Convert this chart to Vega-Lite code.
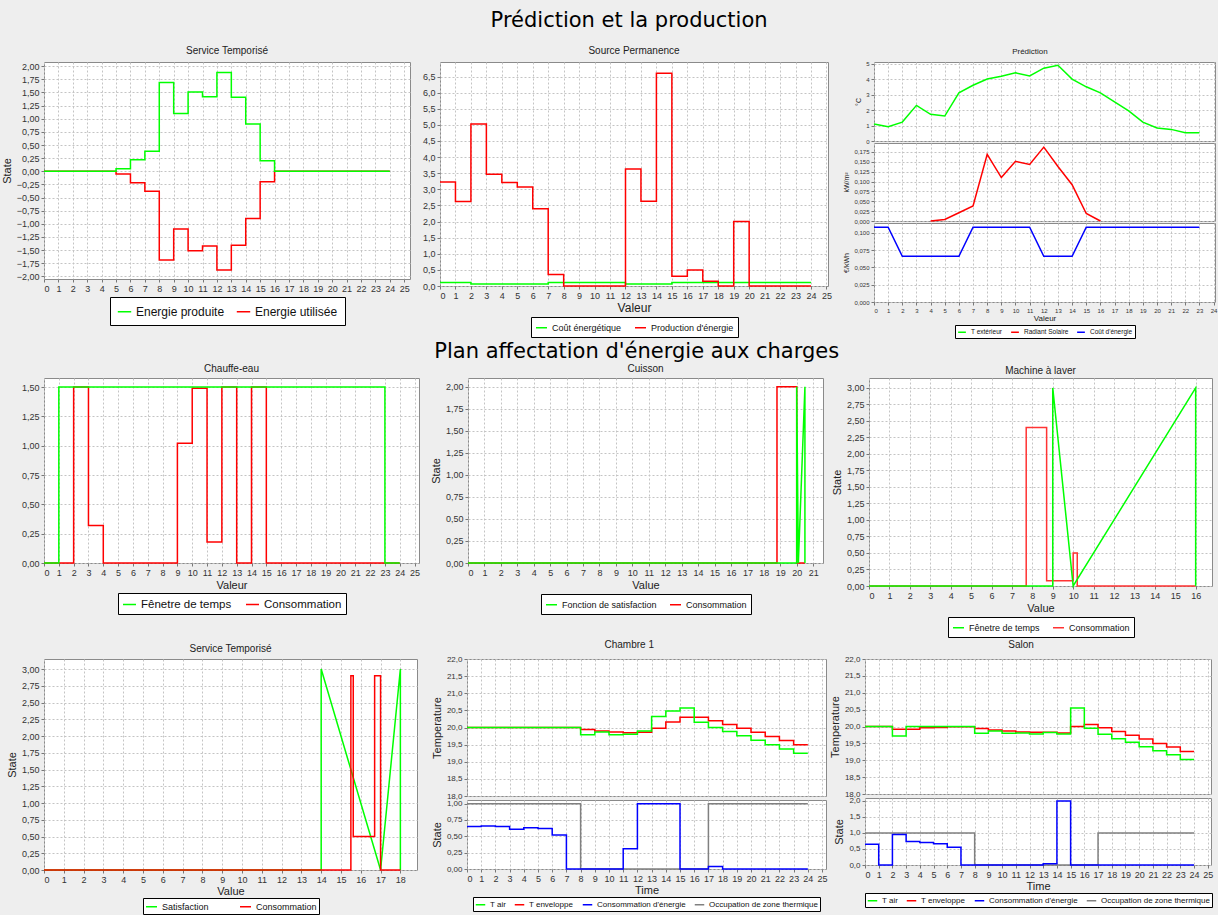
{
  "$schema": "https://vega.github.io/schema/vega-lite/v6.json",
  "background": "#eeeeee",
  "padding": {"left": 0, "top": 9, "right": 0, "bottom": 0},
  "title": {"text": "Prédiction et la production", "font": "DejaVu Sans", "fontSize": 21, "fontWeight": "normal", "color": "#000000", "anchor": "middle", "offset": 15, "dx": 20},
  "spacing": 1,
  "resolve": {"scale": {"color": "independent"}, "legend": {"color": "independent"}},
  "datasets": {
    "p1": [
      {"x": 0, "y": 0, "s": "Energie produite"}, {"x": 5, "y": 0.05, "s": "Energie produite"}, {"x": 6, "y": 0.22, "s": "Energie produite"}, {"x": 7, "y": 0.38, "s": "Energie produite"}, {"x": 8, "y": 1.69, "s": "Energie produite"}, {"x": 9, "y": 1.1, "s": "Energie produite"}, {"x": 10, "y": 1.51, "s": "Energie produite"}, {"x": 11, "y": 1.42, "s": "Energie produite"}, {"x": 12, "y": 1.88, "s": "Energie produite"}, {"x": 13, "y": 1.41, "s": "Energie produite"}, {"x": 14, "y": 0.9, "s": "Energie produite"}, {"x": 15, "y": 0.2, "s": "Energie produite"}, {"x": 16, "y": 0, "s": "Energie produite"}, {"x": 24, "y": 0, "s": "Energie produite"},
      {"x": 0, "y": 0, "s": "Energie utilisée"}, {"x": 5, "y": -0.05, "s": "Energie utilisée"}, {"x": 6, "y": -0.22, "s": "Energie utilisée"}, {"x": 7, "y": -0.38, "s": "Energie utilisée"}, {"x": 8, "y": -1.69, "s": "Energie utilisée"}, {"x": 9, "y": -1.1, "s": "Energie utilisée"}, {"x": 10, "y": -1.51, "s": "Energie utilisée"}, {"x": 11, "y": -1.42, "s": "Energie utilisée"}, {"x": 12, "y": -1.88, "s": "Energie utilisée"}, {"x": 13, "y": -1.41, "s": "Energie utilisée"}, {"x": 14, "y": -0.9, "s": "Energie utilisée"}, {"x": 15, "y": -0.2, "s": "Energie utilisée"}, {"x": 16, "y": 0, "s": "Energie utilisée"}, {"x": 24, "y": 0, "s": "Energie utilisée"}
    ],
    "p2": [
      {"x": 0, "y": 0.106, "s": "Coût énergétique"}, {"x": 2, "y": 0.064, "s": "Coût énergétique"}, {"x": 7, "y": 0.106, "s": "Coût énergétique"}, {"x": 12, "y": 0.064, "s": "Coût énergétique"}, {"x": 15, "y": 0.106, "s": "Coût énergétique"}, {"x": 24, "y": 0.106, "s": "Coût énergétique"},
      {"x": 0, "y": 3.23, "s": "Production d'énergie"}, {"x": 1, "y": 2.62, "s": "Production d'énergie"}, {"x": 2, "y": 5.03, "s": "Production d'énergie"}, {"x": 3, "y": 3.47, "s": "Production d'énergie"}, {"x": 4, "y": 3.21, "s": "Production d'énergie"}, {"x": 5, "y": 3.07, "s": "Production d'énergie"}, {"x": 6, "y": 2.4, "s": "Production d'énergie"}, {"x": 7, "y": 0.36, "s": "Production d'énergie"}, {"x": 8, "y": 0, "s": "Production d'énergie"}, {"x": 12, "y": 3.63, "s": "Production d'énergie"}, {"x": 13, "y": 2.63, "s": "Production d'énergie"}, {"x": 14, "y": 6.6, "s": "Production d'énergie"}, {"x": 15, "y": 0.3, "s": "Production d'énergie"}, {"x": 16, "y": 0.5, "s": "Production d'énergie"}, {"x": 17, "y": 0.15, "s": "Production d'énergie"}, {"x": 18, "y": 0, "s": "Production d'énergie"}, {"x": 19, "y": 2.0, "s": "Production d'énergie"}, {"x": 20, "y": 0, "s": "Production d'énergie"}, {"x": 24, "y": 0, "s": "Production d'énergie"}
    ],
    "p3": [
      {"x": 0, "y": 1.1, "s": "T extérieur"}, {"x": 1, "y": 0.92, "s": "T extérieur"}, {"x": 2, "y": 1.22, "s": "T extérieur"}, {"x": 3, "y": 2.3, "s": "T extérieur"}, {"x": 4, "y": 1.72, "s": "T extérieur"}, {"x": 5, "y": 1.61, "s": "T extérieur"}, {"x": 6, "y": 3.11, "s": "T extérieur"}, {"x": 7, "y": 3.6, "s": "T extérieur"}, {"x": 8, "y": 4.0, "s": "T extérieur"}, {"x": 9, "y": 4.18, "s": "T extérieur"}, {"x": 10, "y": 4.4, "s": "T extérieur"}, {"x": 11, "y": 4.2, "s": "T extérieur"}, {"x": 12, "y": 4.7, "s": "T extérieur"}, {"x": 13, "y": 4.89, "s": "T extérieur"}, {"x": 14, "y": 4.0, "s": "T extérieur"}, {"x": 15, "y": 3.5, "s": "T extérieur"}, {"x": 16, "y": 3.11, "s": "T extérieur"}, {"x": 17, "y": 2.53, "s": "T extérieur"}, {"x": 18, "y": 1.95, "s": "T extérieur"}, {"x": 19, "y": 1.22, "s": "T extérieur"}, {"x": 20, "y": 0.84, "s": "T extérieur"}, {"x": 21, "y": 0.75, "s": "T extérieur"}, {"x": 22, "y": 0.54, "s": "T extérieur"}, {"x": 23, "y": 0.54, "s": "T extérieur"},
      {"x": 4, "y": 0, "s": "Radiant Solaire"}, {"x": 5, "y": 0.004, "s": "Radiant Solaire"}, {"x": 6, "y": 0.021, "s": "Radiant Solaire"}, {"x": 7, "y": 0.038, "s": "Radiant Solaire"}, {"x": 8, "y": 0.169, "s": "Radiant Solaire"}, {"x": 9, "y": 0.11, "s": "Radiant Solaire"}, {"x": 10, "y": 0.151, "s": "Radiant Solaire"}, {"x": 11, "y": 0.143, "s": "Radiant Solaire"}, {"x": 12, "y": 0.187, "s": "Radiant Solaire"}, {"x": 13, "y": 0.138, "s": "Radiant Solaire"}, {"x": 14, "y": 0.092, "s": "Radiant Solaire"}, {"x": 15, "y": 0.019, "s": "Radiant Solaire"}, {"x": 16, "y": 0, "s": "Radiant Solaire"},
      {"x": 0, "y": 0.108, "s": "Coût d'énergie"}, {"x": 1, "y": 0.108, "s": "Coût d'énergie"}, {"x": 2, "y": 0.066, "s": "Coût d'énergie"}, {"x": 6, "y": 0.066, "s": "Coût d'énergie"}, {"x": 7, "y": 0.108, "s": "Coût d'énergie"}, {"x": 11, "y": 0.108, "s": "Coût d'énergie"}, {"x": 12, "y": 0.066, "s": "Coût d'énergie"}, {"x": 14, "y": 0.066, "s": "Coût d'énergie"}, {"x": 15, "y": 0.108, "s": "Coût d'énergie"}, {"x": 23, "y": 0.108, "s": "Coût d'énergie"}
    ],
    "p4": [
      {"x": 0, "y": 0, "s": "Fênetre de temps"}, {"x": 1, "y": 1.5, "s": "Fênetre de temps"}, {"x": 23, "y": 0, "s": "Fênetre de temps"}, {"x": 24, "y": 0, "s": "Fênetre de temps"},
      {"x": 0, "y": 0, "s": "Consommation"}, {"x": 2, "y": 1.5, "s": "Consommation"}, {"x": 3, "y": 0.32, "s": "Consommation"}, {"x": 4, "y": 0, "s": "Consommation"}, {"x": 9, "y": 1.02, "s": "Consommation"}, {"x": 10, "y": 1.49, "s": "Consommation"}, {"x": 11, "y": 0.18, "s": "Consommation"}, {"x": 12, "y": 1.5, "s": "Consommation"}, {"x": 13, "y": 0, "s": "Consommation"}, {"x": 14, "y": 1.5, "s": "Consommation"}, {"x": 15, "y": 0, "s": "Consommation"}, {"x": 24, "y": 0, "s": "Consommation"}
    ],
    "p5": [
      {"x": 0, "y": 0, "s": "Fonction de satisfaction"}, {"x": 20, "y": 0, "s": "Fonction de satisfaction"}, {"x": 20, "y": 2, "s": "Fonction de satisfaction"}, {"x": 20.1, "y": 0, "s": "Fonction de satisfaction"}, {"x": 20.5, "y": 2, "s": "Fonction de satisfaction"}, {"x": 20.5, "y": 0, "s": "Fonction de satisfaction"},
      {"x": 0, "y": 0, "s": "Consommation"}, {"x": 18.8, "y": 2, "s": "Consommation"}, {"x": 20, "y": 0, "s": "Consommation"}, {"x": 20.5, "y": 0, "s": "Consommation"}
    ],
    "p6": [
      {"x": 0, "y": 0, "s": "Fênetre de temps"}, {"x": 9, "y": 0, "s": "Fênetre de temps"}, {"x": 9, "y": 3, "s": "Fênetre de temps"}, {"x": 10, "y": 0, "s": "Fênetre de temps"}, {"x": 16, "y": 3, "s": "Fênetre de temps"}, {"x": 16, "y": 0, "s": "Fênetre de temps"},
      {"x": 0, "y": 0, "s": "Consommation"}, {"x": 7.7, "y": 2.4, "s": "Consommation"}, {"x": 8.7, "y": 0.08, "s": "Consommation"}, {"x": 10.0, "y": 0.5, "s": "Consommation"}, {"x": 10.2, "y": 0, "s": "Consommation"}, {"x": 16, "y": 0, "s": "Consommation"}
    ],
    "p7": [
      {"x": 0, "y": 0, "s": "Satisfaction"}, {"x": 14, "y": 0, "s": "Satisfaction"}, {"x": 14, "y": 3, "s": "Satisfaction"}, {"x": 17, "y": 0, "s": "Satisfaction"}, {"x": 18, "y": 3, "s": "Satisfaction"}, {"x": 18, "y": 0, "s": "Satisfaction"},
      {"x": 0, "y": 0, "s": "Consommation"}, {"x": 15.5, "y": 2.9, "s": "Consommation"}, {"x": 15.62, "y": 0.5, "s": "Consommation"}, {"x": 16.7, "y": 2.9, "s": "Consommation"}, {"x": 17.0, "y": 0, "s": "Consommation"}, {"x": 18, "y": 0, "s": "Consommation"}
    ],
    "p8t": [
      {"x": 0, "y": 20.0, "s": "T air"}, {"x": 8, "y": 19.79, "s": "T air"}, {"x": 9, "y": 19.87, "s": "T air"}, {"x": 10, "y": 19.79, "s": "T air"}, {"x": 11, "y": 19.8, "s": "T air"}, {"x": 12, "y": 19.9, "s": "T air"}, {"x": 13, "y": 20.32, "s": "T air"}, {"x": 14, "y": 20.48, "s": "T air"}, {"x": 15, "y": 20.57, "s": "T air"}, {"x": 16, "y": 20.15, "s": "T air"}, {"x": 17, "y": 20.0, "s": "T air"}, {"x": 18, "y": 19.88, "s": "T air"}, {"x": 19, "y": 19.76, "s": "T air"}, {"x": 20, "y": 19.63, "s": "T air"}, {"x": 21, "y": 19.5, "s": "T air"}, {"x": 22, "y": 19.37, "s": "T air"}, {"x": 23, "y": 19.25, "s": "T air"}, {"x": 24, "y": 19.25, "s": "T air"},
      {"x": 0, "y": 20.0, "s": "T enveloppe"}, {"x": 8, "y": 19.94, "s": "T enveloppe"}, {"x": 9, "y": 19.9, "s": "T enveloppe"}, {"x": 10, "y": 19.87, "s": "T enveloppe"}, {"x": 11, "y": 19.85, "s": "T enveloppe"}, {"x": 12, "y": 19.86, "s": "T enveloppe"}, {"x": 13, "y": 19.98, "s": "T enveloppe"}, {"x": 14, "y": 20.16, "s": "T enveloppe"}, {"x": 15, "y": 20.3, "s": "T enveloppe"}, {"x": 16, "y": 20.3, "s": "T enveloppe"}, {"x": 17, "y": 20.2, "s": "T enveloppe"}, {"x": 18, "y": 20.09, "s": "T enveloppe"}, {"x": 19, "y": 19.98, "s": "T enveloppe"}, {"x": 20, "y": 19.86, "s": "T enveloppe"}, {"x": 21, "y": 19.74, "s": "T enveloppe"}, {"x": 22, "y": 19.62, "s": "T enveloppe"}, {"x": 23, "y": 19.5, "s": "T enveloppe"}, {"x": 24, "y": 19.5, "s": "T enveloppe"}
    ],
    "p8b": [
      {"x": 0, "y": 1, "s": "Occupation de zone thermique"}, {"x": 8, "y": 0, "s": "Occupation de zone thermique"}, {"x": 17, "y": 1, "s": "Occupation de zone thermique"}, {"x": 24, "y": 1, "s": "Occupation de zone thermique"},
      {"x": 0, "y": 0.65, "s": "Consommation d'énergie"}, {"x": 1, "y": 0.66, "s": "Consommation d'énergie"}, {"x": 2, "y": 0.65, "s": "Consommation d'énergie"}, {"x": 3, "y": 0.61, "s": "Consommation d'énergie"}, {"x": 4, "y": 0.63, "s": "Consommation d'énergie"}, {"x": 5, "y": 0.62, "s": "Consommation d'énergie"}, {"x": 6, "y": 0.52, "s": "Consommation d'énergie"}, {"x": 7, "y": 0, "s": "Consommation d'énergie"}, {"x": 11, "y": 0.31, "s": "Consommation d'énergie"}, {"x": 12, "y": 1.0, "s": "Consommation d'énergie"}, {"x": 15, "y": 0, "s": "Consommation d'énergie"}, {"x": 17, "y": 0.04, "s": "Consommation d'énergie"}, {"x": 18, "y": 0, "s": "Consommation d'énergie"}, {"x": 24, "y": 0, "s": "Consommation d'énergie"}
    ],
    "p9t": [
      {"x": 0, "y": 20.0, "s": "T air"}, {"x": 2, "y": 19.72, "s": "T air"}, {"x": 3, "y": 20.0, "s": "T air"}, {"x": 8, "y": 19.8, "s": "T air"}, {"x": 9, "y": 19.87, "s": "T air"}, {"x": 10, "y": 19.8, "s": "T air"}, {"x": 11, "y": 19.81, "s": "T air"}, {"x": 12, "y": 19.78, "s": "T air"}, {"x": 13, "y": 19.82, "s": "T air"}, {"x": 14, "y": 19.78, "s": "T air"}, {"x": 15, "y": 20.55, "s": "T air"}, {"x": 16, "y": 19.95, "s": "T air"}, {"x": 17, "y": 19.77, "s": "T air"}, {"x": 18, "y": 19.64, "s": "T air"}, {"x": 19, "y": 19.53, "s": "T air"}, {"x": 20, "y": 19.4, "s": "T air"}, {"x": 21, "y": 19.28, "s": "T air"}, {"x": 22, "y": 19.16, "s": "T air"}, {"x": 23, "y": 19.02, "s": "T air"}, {"x": 24, "y": 19.02, "s": "T air"},
      {"x": 0, "y": 20.0, "s": "T enveloppe"}, {"x": 2, "y": 19.92, "s": "T enveloppe"}, {"x": 4, "y": 19.96, "s": "T enveloppe"}, {"x": 5, "y": 19.97, "s": "T enveloppe"}, {"x": 6, "y": 19.99, "s": "T enveloppe"}, {"x": 8, "y": 19.94, "s": "T enveloppe"}, {"x": 9, "y": 19.9, "s": "T enveloppe"}, {"x": 10, "y": 19.87, "s": "T enveloppe"}, {"x": 11, "y": 19.84, "s": "T enveloppe"}, {"x": 12, "y": 19.83, "s": "T enveloppe"}, {"x": 14, "y": 19.81, "s": "T enveloppe"}, {"x": 15, "y": 20.0, "s": "T enveloppe"}, {"x": 16, "y": 20.06, "s": "T enveloppe"}, {"x": 17, "y": 19.96, "s": "T enveloppe"}, {"x": 18, "y": 19.85, "s": "T enveloppe"}, {"x": 19, "y": 19.74, "s": "T enveloppe"}, {"x": 20, "y": 19.63, "s": "T enveloppe"}, {"x": 21, "y": 19.5, "s": "T enveloppe"}, {"x": 22, "y": 19.39, "s": "T enveloppe"}, {"x": 23, "y": 19.26, "s": "T enveloppe"}, {"x": 24, "y": 19.26, "s": "T enveloppe"}
    ],
    "p9b": [
      {"x": 0, "y": 1, "s": "Occupation de zone thermique"}, {"x": 8, "y": 0, "s": "Occupation de zone thermique"}, {"x": 17, "y": 1, "s": "Occupation de zone thermique"}, {"x": 24, "y": 1, "s": "Occupation de zone thermique"},
      {"x": 0, "y": 0.65, "s": "Consommation d'énergie"}, {"x": 1, "y": 0, "s": "Consommation d'énergie"}, {"x": 2, "y": 0.95, "s": "Consommation d'énergie"}, {"x": 3, "y": 0.73, "s": "Consommation d'énergie"}, {"x": 4, "y": 0.7, "s": "Consommation d'énergie"}, {"x": 5, "y": 0.66, "s": "Consommation d'énergie"}, {"x": 6, "y": 0.55, "s": "Consommation d'énergie"}, {"x": 7, "y": 0, "s": "Consommation d'énergie"}, {"x": 13, "y": 0.04, "s": "Consommation d'énergie"}, {"x": 14, "y": 2.0, "s": "Consommation d'énergie"}, {"x": 15, "y": 0, "s": "Consommation d'énergie"}, {"x": 24, "y": 0, "s": "Consommation d'énergie"}
    ]
  },
  "vconcat": [
    {
      "spacing": 10,
      "resolve": {"scale": {"color": "independent"}, "legend": {"color": "independent"}},
      "hconcat": [
        {
          "title": {"text": "Service Temporisé", "offset": 6},
          "width": 366, "height": 217,
          "data": {"name": "p1"},
          "encoding": {
            "x": {"field": "x", "type": "quantitative", "scale": {"domain": [0, 25.4], "nice": false}, "axis": {"values": [0,1,2,3,4,5,6,7,8,9,10,11,12,13,14,15,16,17,18,19,20,21,22,23,24,25], "format": "d", "title": null}},
            "y": {"field": "y", "type": "quantitative", "scale": {"domain": [-2.05, 2.08], "nice": false, "zero": false}, "axis": {"values": [-2,-1.75,-1.5,-1.25,-1,-0.75,-0.5,-0.25,0,0.25,0.5,0.75,1,1.25,1.5,1.75,2], "labelExpr": "replace(format(datum.value,'.2f'),'.',',')", "title": "State"}},
            "color": {"field": "s", "type": "nominal", "scale": {"domain": ["Energie produite", "Energie utilisée"], "range": ["#00ff00", "#ff0000"]}, "legend": {"title": null, "labelFontSize": 12, "symbolSize": 180, "symbolStrokeWidth": 2.5, "padding": 7, "columnPadding": 8, "offset": 4}}
          },
          "layer": [
            {"transform": [{"filter": "datum.s === 'Energie utilisée'"}], "mark": {"type": "line", "interpolate": "step-after"}},
            {"transform": [{"filter": "datum.s === 'Energie produite'"}], "mark": {"type": "line", "interpolate": "step-after"}}
          ]
        },
        {
          "title": {"text": "Source Permanence", "offset": 6},
          "width": 388, "height": 224,
          "data": {"name": "p2"},
          "encoding": {
            "x": {"field": "x", "type": "quantitative", "scale": {"domain": [0, 25.1], "nice": false}, "axis": {"values": [0,1,2,3,4,5,6,7,8,9,10,11,12,13,14,15,16,17,18,19,20,21,22,23,24,25], "format": "d", "title": "Valeur", "titleFontSize": 12, "titlePadding": 2}},
            "y": {"field": "y", "type": "quantitative", "scale": {"domain": [0, 6.95], "nice": false}, "axis": {"values": [0,0.5,1,1.5,2,2.5,3,3.5,4,4.5,5,5.5,6,6.5], "labelExpr": "replace(format(datum.value,'.1f'),'.',',')", "title": null}},
            "color": {"field": "s", "type": "nominal", "scale": {"domain": ["Coût énergétique", "Production d'énergie"], "range": ["#00ff00", "#ff0000"]}, "legend": {"title": null, "labelFontSize": 9, "offset": 4}}
          },
          "layer": [
            {"transform": [{"filter": "datum.s === 'Coût énergétique'"}], "mark": {"type": "line", "interpolate": "step-after"}},
            {"transform": [{"filter": "datum.s !== 'Coût énergétique'"}], "mark": {"type": "line", "interpolate": "step-after"}}
          ]
        },
        {
          "title": {"text": "Prédiction", "offset": 4, "fontSize": 8},
          "spacing": 2,
          "bounds": "flush",
          "resolve": {"scale": {"color": "independent"}, "legend": {"color": "independent"}},
          "vconcat": [
            {
              "width": 341, "height": 79,
              "data": {"name": "p3"},
              "transform": [{"filter": "datum.s === 'T extérieur'"}],
              "mark": {"type": "line"},
              "encoding": {
                "x": {"field": "x", "type": "quantitative", "scale": {"domain": [0, 24.1], "nice": false}, "axis": {"values": [0,1,2,3,4,5,6,7,8,9,10,11,12,13,14,15,16,17,18,19,20,21,22,23,24], "labels": false, "ticks": false, "title": null, "maxExtent": 0, "minExtent": 0}},
                "y": {"field": "y", "type": "quantitative", "scale": {"domain": [0, 5.1], "nice": false}, "axis": {"values": [0,1,2,3,4,5], "format": "d", "title": "°C", "titleFontSize": 7, "labelFontSize": 6}},
                "color": {"value": "#00ff00"}
              }
            },
            {
              "width": 341, "height": 78,
              "data": {"name": "p3"},
              "transform": [{"filter": "datum.s === 'Radiant Solaire'"}],
              "mark": {"type": "line"},
              "encoding": {
                "x": {"field": "x", "type": "quantitative", "scale": {"domain": [0, 24.1], "nice": false}, "axis": {"values": [0,1,2,3,4,5,6,7,8,9,10,11,12,13,14,15,16,17,18,19,20,21,22,23,24], "labels": false, "ticks": false, "title": null, "maxExtent": 0, "minExtent": 0}},
                "y": {"field": "y", "type": "quantitative", "scale": {"domain": [0, 0.1975], "nice": false}, "axis": {"values": [0,0.025,0.05,0.075,0.1,0.125,0.15,0.175], "labelExpr": "replace(format(datum.value,'.3f'),'.',',')", "title": "kW/m²", "titleFontSize": 7, "labelFontSize": 6}},
                "color": {"value": "#ff0000"}
              }
            },
            {
              "width": 341, "height": 79,
              "data": {"name": "p3"},
              "transform": [{"filter": "datum.s !== 'T extérieur' && datum.s !== 'Radiant Solaire'"}],
              "mark": {"type": "line"},
              "encoding": {
                "x": {"field": "x", "type": "quantitative", "scale": {"domain": [0, 24.1], "nice": false}, "axis": {"values": [0,1,2,3,4,5,6,7,8,9,10,11,12,13,14,15,16,17,18,19,20,21,22,23,24], "format": "d", "title": "Valeur", "titleFontSize": 8, "labelFontSize": 6, "titlePadding": 1}},
                "y": {"field": "y", "type": "quantitative", "scale": {"domain": [0, 0.114], "nice": false}, "axis": {"values": [0,0.025,0.05,0.075,0.1], "labelExpr": "replace(format(datum.value,'.3f'),'.',',')", "title": "€/kWh", "titleFontSize": 7, "labelFontSize": 6}},
                "color": {"field": "s", "type": "nominal", "scale": {"domain": ["T extérieur", "Radiant Solaire", "Coût d'énergie"], "range": ["#00ff00", "#ff0000", "#0000ff"]}, "legend": {"title": null, "labelFontSize": 6.5, "symbolSize": 60, "padding": 2, "columnPadding": 5, "offset": 3}}
              }
            }
          ]
        }
      ]
    },
    {
      "title": {"text": "Plan affectation d'énergie aux charges", "font": "DejaVu Sans", "fontSize": 21, "fontWeight": "normal", "color": "#000000", "anchor": "middle", "offset": 2, "dx": 20},
      "spacing": 8,
      "resolve": {"scale": {"color": "independent"}, "legend": {"color": "independent"}},
      "hconcat": [
        {
          "title": {"text": "Chauffe-eau", "offset": 4},
          "width": 375, "height": 185,
          "data": {"name": "p4"},
          "encoding": {
            "x": {"field": "x", "type": "quantitative", "scale": {"domain": [0, 25.3], "nice": false}, "axis": {"values": [0,1,2,3,4,5,6,7,8,9,10,11,12,13,14,15,16,17,18,19,20,21,22,23,24,25], "format": "d", "title": "Valeur", "titlePadding": 2}},
            "y": {"field": "y", "type": "quantitative", "scale": {"domain": [0, 1.577], "nice": false}, "axis": {"values": [0,0.25,0.5,0.75,1,1.25,1.5], "labelExpr": "replace(format(datum.value,'.2f'),'.',',')", "title": null}},
            "color": {"field": "s", "type": "nominal", "scale": {"domain": ["Fênetre de temps", "Consommation"], "range": ["#00ff00", "#ff0000"]}, "legend": {"title": null, "labelFontSize": 11.5, "symbolSize": 170, "symbolStrokeWidth": 2.5, "padding": 4, "columnPadding": 10, "offset": 3}}
          },
          "layer": [
            {"transform": [{"filter": "datum.s === 'Consommation'"}], "mark": {"type": "line", "interpolate": "step-after"}},
            {"transform": [{"filter": "datum.s !== 'Consommation'"}], "mark": {"type": "line", "interpolate": "step-after"}}
          ]
        },
        {
          "spacing": 6,
          "resolve": {"scale": {"color": "independent"}, "legend": {"color": "independent"}},
          "hconcat": [
            {
              "title": {"text": "Cuisson", "offset": 4},
              "width": 355, "height": 185,
              "data": {"name": "p5"},
              "encoding": {
                "x": {"field": "x", "type": "quantitative", "scale": {"domain": [0, 21.6], "nice": false}, "axis": {"values": [0,1,2,3,4,5,6,7,8,9,10,11,12,13,14,15,16,17,18,19,20,21], "format": "d", "title": "Value", "titlePadding": 2}},
                "y": {"field": "y", "type": "quantitative", "scale": {"domain": [0, 2.1], "nice": false}, "axis": {"values": [0,0.25,0.5,0.75,1,1.25,1.5,1.75,2], "labelExpr": "replace(format(datum.value,'.2f'),'.',',')", "title": "State"}},
                "color": {"field": "s", "type": "nominal", "scale": {"domain": ["Fonction de satisfaction", "Consommation"], "range": ["#00ff00", "#ff0000"]}, "legend": {"title": null, "labelFontSize": 9, "offset": 4}}
              },
              "layer": [
                {"transform": [{"filter": "datum.s === 'Consommation'"}], "mark": {"type": "line", "interpolate": "step-after"}},
                {"transform": [{"filter": "datum.s !== 'Consommation'"}], "mark": {"type": "line"}, "encoding": {"order": {"value": null}}}
              ]
            },
            {
              "title": {"text": "Machine à laver", "offset": 2},
              "width": 343, "height": 208,
              "data": {"name": "p6"},
              "encoding": {
                "x": {"field": "x", "type": "quantitative", "scale": {"domain": [0, 16.8], "nice": false}, "axis": {"values": [0,1,2,3,4,5,6,7,8,9,10,11,12,13,14,15,16], "format": "d", "title": "Value", "titlePadding": 2}},
                "y": {"field": "y", "type": "quantitative", "scale": {"domain": [0, 3.15], "nice": false}, "axis": {"values": [0,0.25,0.5,0.75,1,1.25,1.5,1.75,2,2.25,2.5,2.75,3], "labelExpr": "replace(format(datum.value,'.2f'),'.',',')", "title": "State"}},
                "color": {"field": "s", "type": "nominal", "scale": {"domain": ["Fênetre de temps", "Consommation"], "range": ["#00ff00", "#ff3333"]}, "legend": {"title": null, "labelFontSize": 9, "offset": 4}}
              },
              "layer": [
                {"transform": [{"filter": "datum.s === 'Consommation'"}], "mark": {"type": "line", "interpolate": "step-after"}},
                {"transform": [{"filter": "datum.s !== 'Consommation'"}], "mark": {"type": "line"}, "encoding": {"order": {"value": null}}}
              ]
            }
          ]
        }
      ]
    },
    {
      "spacing": 12,
      "resolve": {"scale": {"color": "independent"}, "legend": {"color": "independent"}},
      "hconcat": [
        {
          "title": {"text": "Service Temporisé", "offset": 5},
          "width": 373, "height": 211,
          "data": {"name": "p7"},
          "encoding": {
            "x": {"field": "x", "type": "quantitative", "scale": {"domain": [0, 18.84], "nice": false}, "axis": {"values": [0,1,2,3,4,5,6,7,8,9,10,11,12,13,14,15,16,17,18], "format": "d", "title": "Value", "titlePadding": 1}},
            "y": {"field": "y", "type": "quantitative", "scale": {"domain": [0, 3.15], "nice": false}, "axis": {"values": [0,0.25,0.5,0.75,1,1.25,1.5,1.75,2,2.25,2.5,2.75,3], "labelExpr": "replace(format(datum.value,'.2f'),'.',',')", "title": "State"}},
            "color": {"field": "s", "type": "nominal", "scale": {"domain": ["Satisfaction", "Consommation"], "range": ["#00ff00", "#ff0000"]}, "legend": {"title": null, "labelFontSize": 9, "columnPadding": 28, "padding": 2, "offset": 2}}
          },
          "layer": [
            {"transform": [{"filter": "datum.s !== 'Consommation'"}], "mark": {"type": "line"}, "encoding": {"order": {"value": null}}},
            {"transform": [{"filter": "datum.s === 'Consommation'"}], "mark": {"type": "line", "interpolate": "step-after"}}
          ]
        },
        {
          "spacing": 0,
          "resolve": {"scale": {"color": "independent"}, "legend": {"color": "independent"}},
          "hconcat": [
            {
              "title": {"text": "Chambre 1", "offset": 5},
              "spacing": 4,
              "bounds": "flush",
              "resolve": {"scale": {"color": "independent"}, "legend": {"color": "independent"}},
              "vconcat": [
                {
                  "width": 359, "height": 137,
                  "data": {"name": "p8t"},
                  "encoding": {
                    "x": {"field": "x", "type": "quantitative", "scale": {"domain": [0, 25.28], "nice": false}, "axis": {"values": [0,1,2,3,4,5,6,7,8,9,10,11,12,13,14,15,16,17,18,19,20,21,22,23,24,25], "labels": false, "ticks": false, "title": null, "maxExtent": 0, "minExtent": 0}},
                    "y": {"field": "y", "type": "quantitative", "scale": {"domain": [18, 22], "nice": false, "zero": false}, "axis": {"values": [18,18.5,19,19.5,20,20.5,21,21.5,22], "labelExpr": "replace(format(datum.value,'.1f'),'.',',')", "title": "Temperature", "labelFontSize": 8}}
                  },
                  "layer": [
                    {"transform": [{"filter": "datum.s === 'T enveloppe'"}], "mark": {"type": "line", "interpolate": "step-after", "color": "#ff0000"}},
                    {"transform": [{"filter": "datum.s === 'T air'"}], "mark": {"type": "line", "interpolate": "step-after", "color": "#00ff00"}}
                  ]
                },
                {
                  "width": 359, "height": 69,
                  "data": {"name": "p8b"},
                  "mark": {"type": "line", "interpolate": "step-after"},
                  "encoding": {
                    "x": {"field": "x", "type": "quantitative", "scale": {"domain": [0, 25.28], "nice": false}, "axis": {"values": [0,1,2,3,4,5,6,7,8,9,10,11,12,13,14,15,16,17,18,19,20,21,22,23,24,25], "format": "d", "title": "Time", "titlePadding": 1}},
                    "y": {"field": "y", "type": "quantitative", "scale": {"domain": [0, 1.056], "nice": false}, "axis": {"values": [0,0.25,0.5,0.75,1], "labelExpr": "replace(format(datum.value,'.2f'),'.',',')", "title": "State", "labelFontSize": 8}},
                    "color": {"field": "s", "type": "nominal", "scale": {"domain": ["T air", "T enveloppe", "Consommation d'énergie", "Occupation de zone thermique"], "range": ["#00ff00", "#ff0000", "#0000ff", "#808080"]}, "legend": {"title": null, "labelFontSize": 8, "symbolSize": 90, "columnPadding": 5, "padding": 2, "offset": 2}}
                  }
                }
              ]
            },
            {
              "title": {"text": "Salon", "offset": 5},
              "spacing": 4,
              "bounds": "flush",
              "resolve": {"scale": {"color": "independent"}, "legend": {"color": "independent"}},
              "vconcat": [
                {
                  "width": 346, "height": 135,
                  "data": {"name": "p9t"},
                  "encoding": {
                    "x": {"field": "x", "type": "quantitative", "scale": {"domain": [0, 25.24], "nice": false}, "axis": {"values": [0,1,2,3,4,5,6,7,8,9,10,11,12,13,14,15,16,17,18,19,20,21,22,23,24,25], "labels": false, "ticks": false, "title": null, "maxExtent": 0, "minExtent": 0}},
                    "y": {"field": "y", "type": "quantitative", "scale": {"domain": [18, 22], "nice": false, "zero": false}, "axis": {"values": [18,18.5,19,19.5,20,20.5,21,21.5,22], "labelExpr": "replace(format(datum.value,'.1f'),'.',',')", "title": "Temperature", "labelFontSize": 8}}
                  },
                  "layer": [
                    {"transform": [{"filter": "datum.s === 'T enveloppe'"}], "mark": {"type": "line", "interpolate": "step-after", "color": "#ff0000"}},
                    {"transform": [{"filter": "datum.s === 'T air'"}], "mark": {"type": "line", "interpolate": "step-after", "color": "#00ff00"}}
                  ]
                },
                {
                  "width": 346, "height": 67,
                  "data": {"name": "p9b"},
                  "mark": {"type": "line", "interpolate": "step-after"},
                  "encoding": {
                    "x": {"field": "x", "type": "quantitative", "scale": {"domain": [0, 25.24], "nice": false}, "axis": {"values": [0,1,2,3,4,5,6,7,8,9,10,11,12,13,14,15,16,17,18,19,20,21,22,23,24,25], "format": "d", "title": "Time", "titlePadding": 1}},
                    "y": {"field": "y", "type": "quantitative", "scale": {"domain": [0, 2.09], "nice": false}, "axis": {"values": [0,0.5,1,1.5,2], "labelExpr": "replace(format(datum.value,'.1f'),'.',',')", "title": "State", "labelFontSize": 8}},
                    "color": {"field": "s", "type": "nominal", "scale": {"domain": ["T air", "T enveloppe", "Consommation d'énergie", "Occupation de zone thermique"], "range": ["#00ff00", "#ff0000", "#0000ff", "#808080"]}, "legend": {"title": null, "labelFontSize": 8, "symbolSize": 90, "columnPadding": 5, "padding": 2, "offset": 2}}
                  }
                }
              ]
            }
          ]
        }
      ]
    }
  ],
  "config": {
    "font": "Liberation Sans",
    "view": {"stroke": "#8a8a8a", "fill": "#ffffff"},
    "axis": {"labelFontSize": 9, "labelColor": "#333333", "titleFontSize": 11, "titleFontWeight": "normal", "titleColor": "#222222", "gridColor": "#c4c4c4", "gridDash": [2, 2], "domain": false, "tickColor": "#777777", "tickSize": 3, "labelPadding": 2, "titlePadding": 4},
    "title": {"fontSize": 10, "fontWeight": "normal", "color": "#222222", "anchor": "middle", "font": "Liberation Sans"},
    "legend": {"orient": "bottom", "direction": "horizontal", "strokeColor": "#000000", "fillColor": "#ffffff", "padding": 4, "symbolType": "stroke", "symbolStrokeWidth": 2, "symbolSize": 120, "labelFontSize": 10, "labelColor": "#111111", "columnPadding": 10, "offset": 6, "layout": {"bottom": {"anchor": "middle"}}},
    "line": {"strokeWidth": 1.5, "clip": true}
  }
}
